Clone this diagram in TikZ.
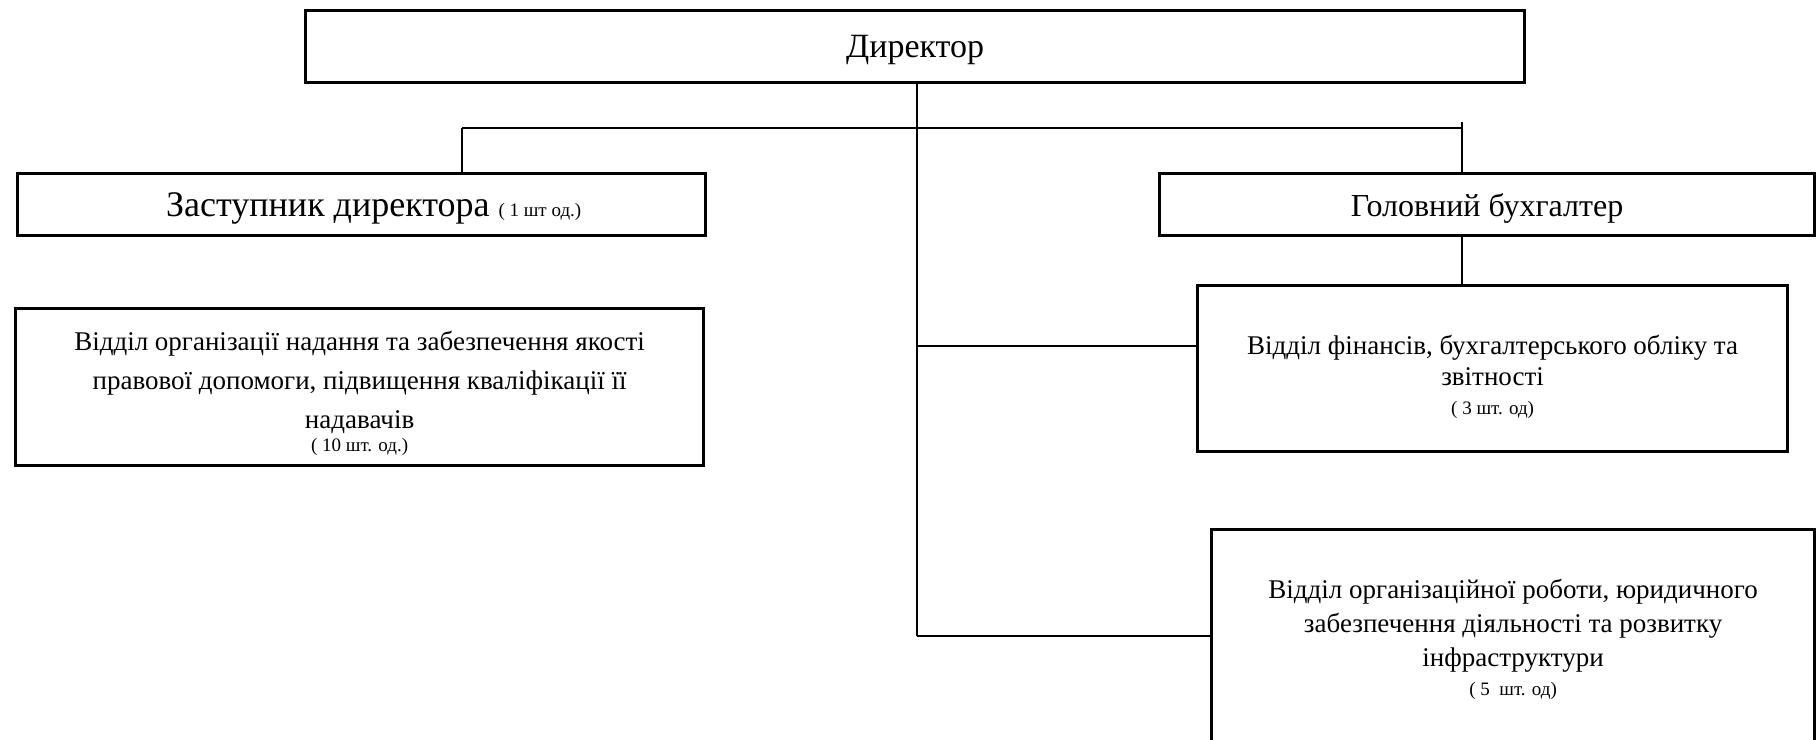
\documentclass[tikz,border=0pt]{standalone}
\usepackage{fontspec}
\setmainfont{Liberation Serif}
\begin{document}
\begin{tikzpicture}[x=1pt,y=-1pt,
  box/.style={draw, line width=3.2pt, inner sep=0pt, anchor=north west},
  txt/.style={inner sep=0pt, align=center},
  link/.style={line width=1.6pt},
  big/.style={font=\fontsize{34}{40}\selectfont},
  mid/.style={font=\fontsize{32}{38}\selectfont}]
\useasboundingbox (0,0) rectangle (1819,739);
\newcommand{\smalltxt}[1]{{\fontsize{19}{22}\selectfont #1}}

% boxes
\node[box, minimum width=1219pt, minimum height=72pt] (dir) at (304,9) {};
\node[box, minimum width=688pt, minimum height=62pt] (zast) at (16,172) {};
\node[box, minimum width=655pt, minimum height=62pt] (gol) at (1158,172) {};
\node[box, minimum width=688pt, minimum height=157pt] (vnad) at (14,307) {};
\node[box, minimum width=590pt, minimum height=166pt] (vfin) at (1196,284) {};
\node[box, minimum width=603pt, minimum height=220pt] (vorg) at (1210,528) {};

% texts
\node[txt, big] (dirt) at ([yshift=-3.5pt]dir.center) {Директор};
\node[txt, font=\fontsize{36}{40}\selectfont, anchor=west] (zastt) at ([yshift=-4pt]zast.center -| 166,0) {Заступник директора \smalltxt{( 1 шт од.)}};
\node[txt, mid] (golt) at ([yshift=-4pt]gol.center) {Головний бухгалтер};
\node[txt, font=\fontsize{27}{39}\selectfont] (vnadt) at ([yshift=-6pt]vnad.center)
  {Відділ організації надання та забезпечення якості\\правової допомоги, підвищення кваліфікації її\\надавачів\\[-16pt]\smalltxt{( 10 шт. од.)}};
\node[txt, font=\fontsize{27}{31}\selectfont] (vfint) at ([yshift=-8pt]vfin.center)
  {Відділ фінансів, бухгалтерського обліку та\\звітності\\[-2pt]\smalltxt{( 3 шт. од)}};
\node[txt, font=\fontsize{27}{34}\selectfont] (vorgt) at (vorg.center)
  {Відділ організаційної роботи, юридичного\\забезпечення діяльності та розвитку\\інфраструктури\\[-5pt]\smalltxt{( 5 \ шт. од)}};

% connectors
\coordinate (top) at (917,81);
\coordinate (hl) at (462,128);
\coordinate (hr) at (1462,128);
\coordinate (hrt) at (1462,122);
\coordinate (jfin) at (917,346);
\coordinate (jorg) at (917,636);

\draw[link] (top) -- (jorg);
\draw[link] (hl) -- (hr);
\draw[link] (hl) -- (hl |- zast.north);
\draw[link] (hrt) -- (hrt |- gol.north);
\draw[link] (hrt |- gol.south) -- (hrt |- vfin.north);
\draw[link] (jfin) -- (jfin -| vfin.west);
\draw[link] (jorg) -- (jorg -| vorg.west);
\end{tikzpicture}
\end{document}
